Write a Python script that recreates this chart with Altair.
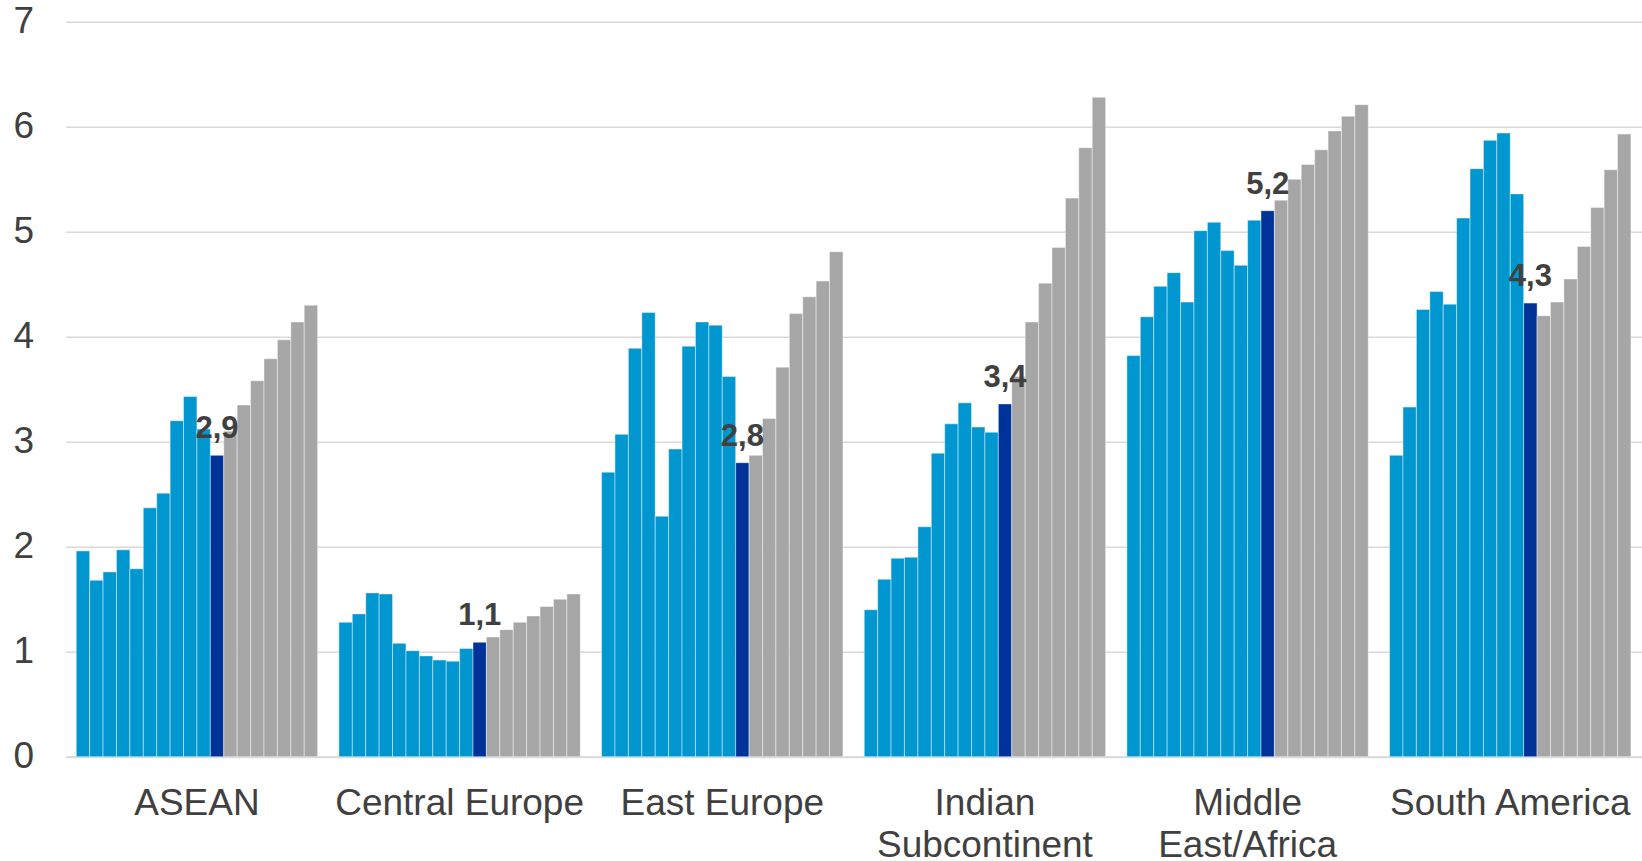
import altair as alt
import pandas as pd

# Regions along the x axis
regions = ["ASEAN", "Central Europe", "East Europe", "Indian Subcontinent",
           "Middle East/Africa", "South America"]

# 18 yearly values per region: 10 historical, 1 current, 7 forecast
asean = [1.96, 1.68, 1.76, 1.97, 1.79, 2.37, 2.51, 3.20, 3.43, 3.12,
         2.87,
         3.10, 3.35, 3.58, 3.79, 3.97, 4.14, 4.30]
central_europe = [1.28, 1.36, 1.56, 1.55, 1.08, 1.01, 0.96, 0.92, 0.91, 1.03,
                  1.09,
                  1.14, 1.21, 1.28, 1.34, 1.43, 1.50, 1.55]
east_europe = [2.71, 3.07, 3.89, 4.23, 2.29, 2.93, 3.91, 4.14, 4.11, 3.62,
               2.80,
               2.87, 3.22, 3.71, 4.22, 4.38, 4.53, 4.81]
indian_subcontinent = [1.40, 1.69, 1.89, 1.90, 2.19, 2.89, 3.17, 3.37, 3.14, 3.09,
                       3.36,
                       3.62, 4.14, 4.51, 4.85, 5.32, 5.80, 6.28]
middle_east_africa = [3.82, 4.19, 4.48, 4.61, 4.33, 5.01, 5.09, 4.82, 4.68, 5.11,
                      5.20,
                      5.30, 5.50, 5.64, 5.78, 5.96, 6.10, 6.21]
south_america = [2.87, 3.33, 4.26, 4.43, 4.31, 5.13, 5.60, 5.87, 5.94, 5.36,
                 4.32,
                 4.20, 4.33, 4.55, 4.86, 5.23, 5.59, 5.93]

kinds = ["history"] * 10 + ["current"] + ["forecast"] * 7
series = [asean, central_europe, east_europe, indian_subcontinent,
          middle_east_africa, south_america]

rows = []
for region, vals in zip(regions, series):
    for i, (v, k) in enumerate(zip(vals, kinds)):
        rows.append({
            "region": region,
            "idx": i,
            "value": v,
            "kind": k,
            "label": f"{v:.1f}".replace(".", ","),
        })
df = pd.DataFrame(rows)

FONT = "Liberation Sans"
TEXT = "#404040"
GRID = "#D9D9D9"

label_expr = (
    "datum.value == 'Indian Subcontinent' ? ['Indian', 'Subcontinent'] : "
    "datum.value == 'Middle East/Africa' ? ['Middle', 'East/Africa'] : datum.value"
)

x_enc = alt.X(
    "region:N", sort=regions, title=None,
    scale=alt.Scale(paddingInner=0.081, paddingOuter=0.0405),
    axis=alt.Axis(labelAngle=0, labelFont=FONT, labelFontSize=37,
                  labelColor=TEXT, labelPadding=29, ticks=False, tickSize=0,
                  domainColor=GRID, domainWidth=2, labelLineHeight=42,
                  labelBaseline="top", labelLimit=0, labelExpr=label_expr),
)
xoff_enc = alt.XOffset("idx:O", scale=alt.Scale(paddingInner=0, paddingOuter=0))
y_enc = alt.Y(
    "value:Q", title=None,
    scale=alt.Scale(domain=[0, 7], nice=False),
    axis=alt.Axis(values=[0, 1, 2, 3, 4, 5, 6, 7], grid=True, gridColor=GRID,
                  gridWidth=1.6, domain=False, ticks=False, labelFont=FONT,
                  labelFontSize=37, labelColor=TEXT, labelPadding=32),
)

bars = alt.Chart(df).mark_bar(
    stroke="white", strokeWidth=0.8, strokeOpacity=0.55
).encode(
    x=x_enc,
    xOffset=xoff_enc,
    y=y_enc,
    color=alt.Color("kind:N",
                    scale=alt.Scale(domain=["history", "current", "forecast"],
                                    range=["#0097D0", "#003399", "#A6A6A6"]),
                    legend=None),
)

labels = alt.Chart(df).transform_filter(
    alt.datum.kind == "current"
).mark_text(
    dy=-17, baseline="alphabetic", align="center", font=FONT,
    fontSize=31, fontWeight="bold", color=TEXT
).encode(
    x=x_enc,
    xOffset=xoff_enc,
    y=y_enc,
    text="label:N",
)

chart = alt.layer(bars, labels).properties(
    width=1576,
    height=735,
    padding={"left": 65.6, "top": 21.7, "right": 0, "bottom": 104.3},
    autosize=alt.AutoSizeParams(type="none"),
).configure_view(stroke=None)

chart.save("out.html", embed_options={"renderer": "svg", "actions": False})
